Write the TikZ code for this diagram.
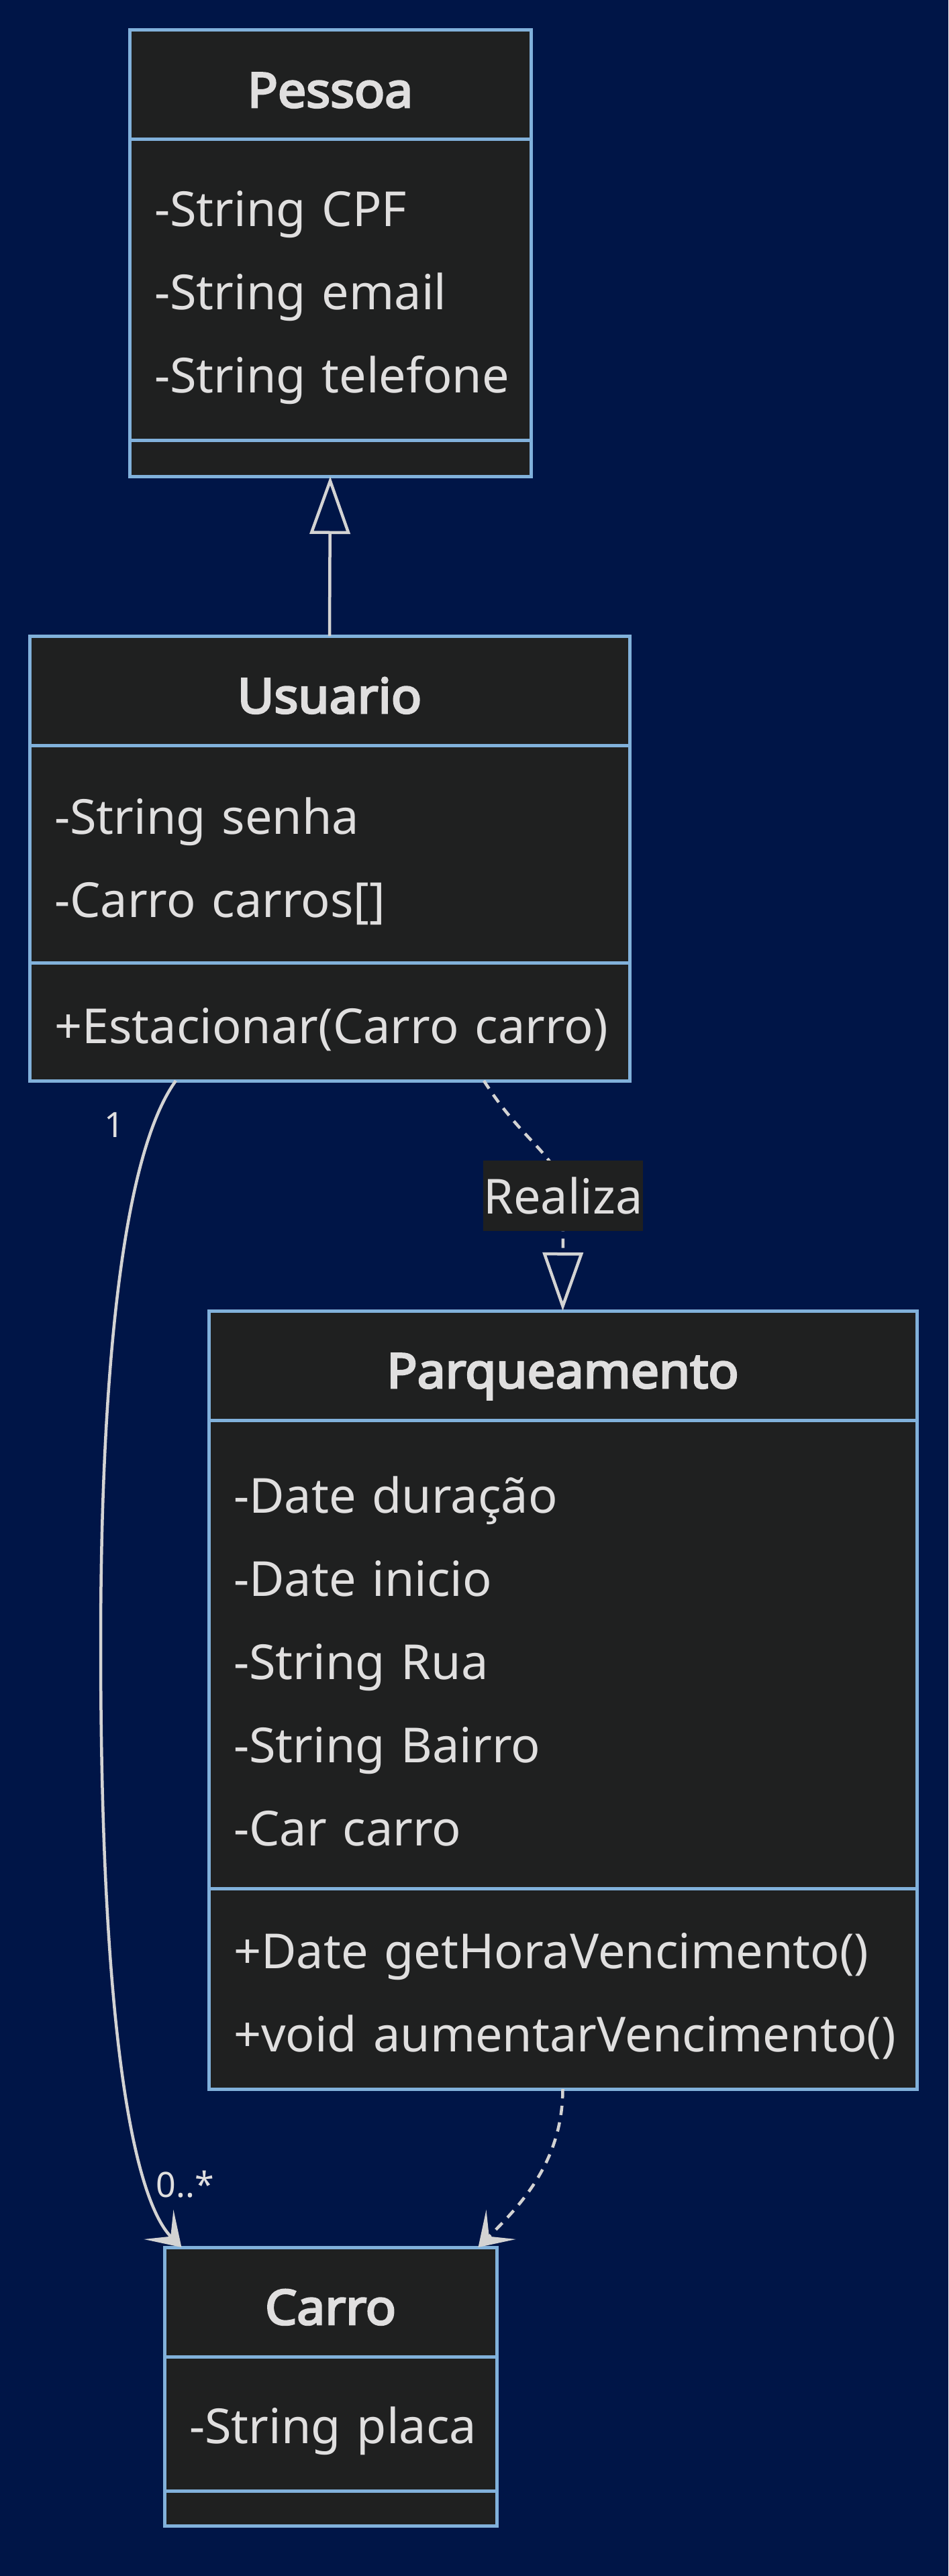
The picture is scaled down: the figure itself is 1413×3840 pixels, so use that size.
\documentclass[tikz,border=0pt]{standalone}
\usepackage{fontspec}
\setmainfont{Noto Sans}[BoldFont={Noto Sans}, BoldFeatures={FakeBold=4, FakeStretch=1.04}]
\usetikzlibrary{positioning,arrows.meta}
\definecolor{bgnavy}{RGB}{0,21,71}
\definecolor{boxfill}{HTML}{1F2020}
\definecolor{boxline}{HTML}{81B1DB}
\definecolor{txt}{HTML}{E0DFDF}
\definecolor{edge}{HTML}{D3D3D3}
\newcommand{\nobreaks}{\hyphenpenalty=10000\relax\exhyphenpenalty=10000\relax\hbadness=10000\relax\hfuzz=40pt\relax}
\begin{document}
\begin{tikzpicture}[x=1pt,y=-1pt,
    classbox/.style={draw=boxline, fill=boxfill, line width=5, outer sep=0, text=txt},
    classhead/.style={classbox, inner sep=0, minimum height=163, text height=80, text depth=13,
        font=\fontsize{72}{124}\selectfont\bfseries},
    classbody/.style={classbox, inner ysep=0, inner xsep=37, align=left,
        font=\fontsize{72}{124}\selectfont,
        execute at begin node={\relax\nobreaks\rule{0pt}{76pt}}},
    classempty/.style={classbox, inner sep=0},
    lbl/.style={fill=boxfill, text=txt, inner sep=0, minimum height=105,
        font=\fontsize{72}{86}\selectfont},
    mult/.style={text=txt, inner sep=0, font=\fontsize{52}{60}\selectfont},
    edgeline/.style={draw=edge, line width=4.5},
    inherit/.style={edgeline, -{Triangle[open, length=86, width=60]}},
    realize/.style={edgeline, dash pattern=on 14pt off 11pt, -{Triangle[open, length=87, width=60]}},
    assoc/.style={edgeline, -{Stealth[length=48, width=62, inset=25]}},
    depend/.style={edgeline, dash pattern=on 14pt off 11pt, -{Stealth[length=48, width=62, inset=25]}}]
    \useasboundingbox (0,0) rectangle (1413,3840);
    \fill[bgnavy] (0,0) rectangle (1413,3840);
    % Pessoa
    \node[classhead, minimum width=598, anchor=north] (pessoa) at (492,45) {Pessoa};
    \node[classbody, text width=524, minimum height=448, below=0pt of pessoa] (pessoaAttr)
        {-String~CPF\\-String~email\\-String~telefone};
    \node[classempty, minimum width=598, minimum height=54, below=0pt of pessoaAttr] (pessoaOps) {};
    % Usuario
    \node[classhead, minimum width=894, anchor=north] (usuario) at (491,948) {Usuario};
    \node[classbody, text width=820, minimum height=324, below=0pt of usuario] (usuarioAttr)
        {-String~senha\\-Carro~carros[]};
    \node[classbody, text width=820, minimum height=176, below=0pt of usuarioAttr] (usuarioOps)
        {+Estacionar(Carro~carro)};
    % Parqueamento
    \node[classhead, minimum width=1055, anchor=north] (parq) at (838.5,1954) {Parqueamento};
    \node[classbody, text width=981, minimum height=698, below=0pt of parq] (parqAttr)
        {-Date~duração\\-Date~inicio\\-String~Rua\\-String~Bairro\\-Car~carro};
    \node[classbody, text width=981, minimum height=299, below=0pt of parqAttr] (parqOps)
        {+Date~getHoraVencimento()\\+void~aumentarVencimento()};
    % Carro
    \node[classhead, minimum width=495, anchor=north] (carro) at (492.5,3350) {Carro};
    \node[classbody, text width=421, minimum height=200, below=0pt of carro] (carroAttr)
        {-String~placa};
    \node[classempty, minimum width=495, minimum height=52, below=0pt of carroAttr] (carroOps) {};
    % Inheritance
    \draw[inherit] (usuario.north) -- (pessoaOps.south);
    % Realization
    \coordinate (realizaPt) at (839,1782);
    \draw[realize] ([xshift=230]usuarioOps.south) .. controls +(60,95) and +(-5,-60) .. (realizaPt)
        node[lbl] (realiza) {Realiza} -- (parq.north);
    % Association with multiplicities
    \draw[assoc] ([xshift=-229]usuarioOps.south) .. controls +(-80,110) and +(0,-400) .. (150,2450)
        .. controls +(0,700) and +(-50,-50) .. ([xshift=-222]carro.north);
    \node[mult] (multUsuario) at (170,1677) {1};
    \node[mult] (multCarro) at (276,3256) {0..*};
    % Dependency
    \draw[depend] (parqOps.south) .. controls +(0,110) and +(60,-60) .. ([xshift=220]carro.north);
\end{tikzpicture}
\end{document}
